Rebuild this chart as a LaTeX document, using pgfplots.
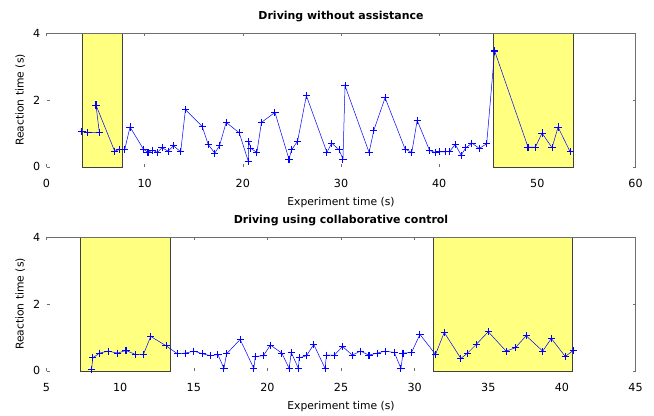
\documentclass[border=0pt]{standalone}
\usepackage{fontspec}
\setmainfont{DejaVu Sans}
\usepackage{pgfplots}
\pgfplotsset{compat=1.18}
\definecolor{hl}{RGB}{255,255,128}
\definecolor{spine}{RGB}{110,110,110}
\pgfplotstableread{
x y
3.61 1.05
4.22 1.03
5.38 1.03
5.04 1.85
6.94 0.47
7.42 0.52
7.96 0.51
8.51 1.19
9.87 0.53
10.34 0.43
10.82 0.50
11.30 0.43
11.77 0.57
12.39 0.47
12.93 0.63
13.67 0.45
14.15 1.71
15.86 1.21
16.47 0.67
17.14 0.41
17.62 0.63
18.30 1.33
19.63 1.02
20.55 0.17
20.61 0.75
20.82 0.55
21.43 0.43
21.90 1.33
23.27 1.63
24.70 0.23
24.97 0.51
25.58 0.77
26.47 2.13
28.57 0.43
29.05 0.71
29.80 0.51
30.20 0.23
30.41 2.43
32.86 0.43
33.34 1.09
34.49 2.07
36.53 0.53
37.21 0.43
37.76 1.39
39.02 0.49
39.60 0.43
40.07 0.45
40.60 0.45
41.09 0.47
41.63 0.67
42.24 0.35
42.72 0.57
43.34 0.71
44.08 0.55
44.84 0.69
45.65 3.47
49.05 0.59
49.80 0.59
50.48 1.01
51.50 0.57
52.11 1.19
53.34 0.45
}\topdata
\pgfplotstableread{
x y
8.06 0.05
8.15 0.39
8.60 0.53
9.18 0.59
9.82 0.53
10.40 0.61
11.04 0.49
11.58 0.49
12.08 1.03
13.12 0.75
13.89 0.51
14.43 0.53
15.01 0.59
15.60 0.51
16.15 0.45
16.64 0.49
17.05 0.07
17.23 0.51
18.15 0.94
19.08 0.07
19.18 0.43
19.72 0.45
20.21 0.77
20.98 0.53
21.48 0.07
21.62 0.55
22.11 0.07
22.16 0.39
22.65 0.45
23.15 0.79
23.92 0.07
24.01 0.47
24.55 0.47
25.10 0.73
25.77 0.47
26.32 0.59
26.90 0.47
27.45 0.53
27.99 0.59
28.62 0.55
29.07 0.07
29.21 0.53
29.79 0.55
30.36 1.09
31.42 0.49
32.01 1.15
33.14 0.37
33.59 0.53
34.18 0.79
35.00 1.17
36.21 0.59
36.84 0.69
37.57 1.05
38.70 0.59
39.28 0.97
40.23 0.43
40.77 0.61
}\botdata
\begin{document}
\begin{tikzpicture}[x=1bp,y=1bp]
\useasboundingbox (0,0) rectangle (654,415);
\pgfplotsset{
  myax/.style={
    scale only axis, width=589bp, height=133.5bp,
    ymin=0, ymax=4, ytick={0,2,4},
    axis line style={draw=none},
    tick align=inside, tick pos=both,
    major tick length=3bp,
    every tick/.style={spine, line width=0.5bp},
    clip=false,
    /pgf/number format/assume math mode=true,
    tick label style={font=\fontsize{11.2}{13}\selectfont},
    xticklabel style={anchor=base, yshift=-20.5bp, inner sep=0pt},
    yticklabel style={anchor=east, xshift=-6bp, inner sep=0pt},
    title style={at={([yshift=8bp]axis description cs:0.5,1)}, anchor=base, font=\fontsize{11}{13}\selectfont\bfseries},
    xlabel style={at={([yshift=-39bp]axis description cs:0.5,0)}, anchor=base, font=\fontsize{10.8}{13}\selectfont},
    ylabel style={at={([xshift=-23bp]axis description cs:0,0.5)}, anchor=base, font=\fontsize{10.8}{13}\selectfont},
    xlabel={Experiment time (s)},
    ylabel={Reaction time (s)},
  },
  band/.style={fill=hl, draw=black!75, line width=0.5bp},
  ser/.style={blue, line width=0.5bp, mark=+, mark size=3.6bp,
    mark options={line width=1.05bp, blue}},
}
\begin{axis}[myax, at={(46.5bp,248.2bp)}, anchor=south west,
  xmin=0, xmax=60, xtick={0,10,...,60},
  title={Driving without assistance}]
  \addplot[band] coordinates {(3.67,0) (3.67,4) (7.76,4) (7.76,0)} -- cycle;
  \addplot[band] coordinates {(45.5,0) (45.5,4) (53.67,4) (53.67,0)} -- cycle;
  \addplot[ser] table[x=x,y=y] {\topdata};
  \draw[spine, line width=0.6bp] (rel axis cs:0,1) -- (rel axis cs:1,1) -- (rel axis cs:1,0);
\end{axis}
\begin{axis}[myax, at={(46.5bp,44.2bp)}, anchor=south west,
  xmin=5, xmax=45, xtick={5,10,...,45},
  title={Driving using collaborative control}]
  \addplot[band] coordinates {(7.28,0) (7.28,4) (13.39,4) (13.39,0)} -- cycle;
  \addplot[band] coordinates {(31.29,0) (31.29,4) (40.69,4) (40.69,0)} -- cycle;
  \addplot[ser] table[x=x,y=y] {\botdata};
  \draw[spine, line width=0.6bp] (rel axis cs:0,1) -- (rel axis cs:1,1) -- (rel axis cs:1,0);
\end{axis}
\end{tikzpicture}
\end{document}
